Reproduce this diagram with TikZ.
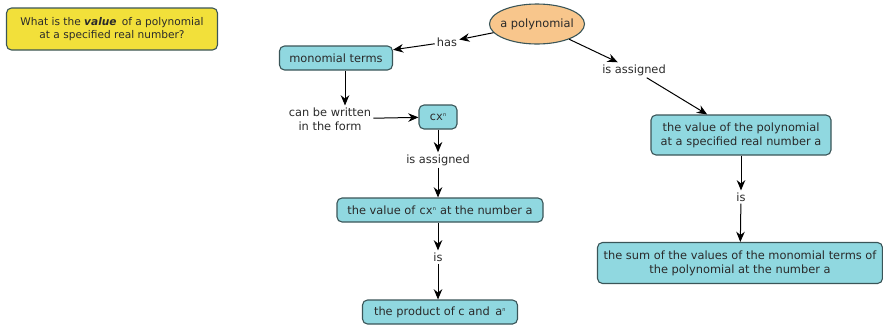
\documentclass[tikz,border=0pt]{standalone}
\usepackage{fontspec}
\setmainfont{DejaVu Sans}
\setmonofont{DejaVu Sans Mono}
\usetikzlibrary{arrows.meta, positioning, shapes.geometric}

\definecolor{conceptfill}{HTML}{90D8E0}
\definecolor{conceptline}{HTML}{3A5558}
\definecolor{rootfill}{HTML}{F8C68C}
\definecolor{questfill}{HTML}{F2E03A}
\definecolor{labeltext}{HTML}{2A2A2A}

\begin{document}
\begin{tikzpicture}[
    x=1pt, y=-1pt,
    concept/.style={draw=conceptline, line width=1.1pt, rounded corners=5pt, fill=#1, minimum height=24pt, inner xsep=3pt, inner ysep=3pt, font=\fontsize{11.4}{13.8}\selectfont, text=labeltext, align=center},
    concept/.default=conceptfill,
    root/.style={draw=conceptline, line width=1.1pt, ellipse, fill=rootfill, minimum width=95pt, minimum height=40pt, inner xsep=-5pt, inner ysep=1pt, font=\fontsize{11.4}{13.8}\selectfont, text=labeltext},
    link/.style={font=\fontsize{11.4}{13.8}\selectfont, align=center, inner sep=2pt, text=labeltext},
    arrow/.style={-{Stealth[length=3.6mm, width=3mm]}, line width=1pt},
]
\useasboundingbox (0,0) rectangle (883,325);

% focus question
\node[concept=questfill, minimum width=211pt, minimum height=42pt, font=\fontsize{10.6}{12.8}\selectfont] (quest) at (112, 29)
    {What is the \textbf{\textit{value}}\, of a polynomial\\at a specified real number?};

% root concept
\node[root] (poly) at (537, 24) {a polynomial};

% left branch
\node[link] (has) at (447, 42) {has};
\node[concept, minimum width=113pt] (terms) at (336, 58) {monomial terms};
\node[link] (written) at (330, 119) {can be written\\in the form};
\node[concept, minimum width=38pt] (cxn) at (438, 117) {{\ttfamily cx}\textsuperscript{\tiny n}};
\node[link] (assign1) at (438, 160) {is assigned};
\node[concept, minimum width=206pt] (valcx) at (440, 210) {the value of {\ttfamily cx}\textsuperscript{\tiny n} at the number a};
\node[link] (is1) at (438, 257) {is};
\node[concept, minimum width=155pt] (prod) at (440, 312) {the product of c and\, a\textsuperscript{\tiny n}};

% right branch
\node[link] (assign2) at (634, 70) {is assigned};
\node[concept, minimum width=180pt, minimum height=40pt] (valpoly) at (741, 135) {the value of the polynomial\\at a specified real number a};
\node[link] (is2) at (741, 197) {is};
\node[concept, minimum width=285pt, minimum height=41pt] (sum) at (740, 263) {the sum of the values of the monomial terms of\\the polynomial at the number a};

\draw[arrow] (poly) -- (has);
\draw[arrow] (has) -- (terms);
\draw[arrow] (terms.south -| written.north) ++(15,0) -- ([xshift=15pt]written.north);
\draw[arrow] (written) -- (cxn);
\draw[arrow] (cxn) -- (assign1);
\draw[arrow] (assign1.south) -- (assign1.south |- valcx.north);
\draw[arrow] (valcx.south -| is1) -- (is1);
\draw[arrow] (is1.south) -- (is1.south |- prod.north);

\draw[arrow] (poly) -- (assign2);
\draw[arrow] (assign2) -- (valpoly);
\draw[arrow] (valpoly) -- (is2);
\draw[arrow] (is2) -- (sum);

\end{tikzpicture}
\end{document}
